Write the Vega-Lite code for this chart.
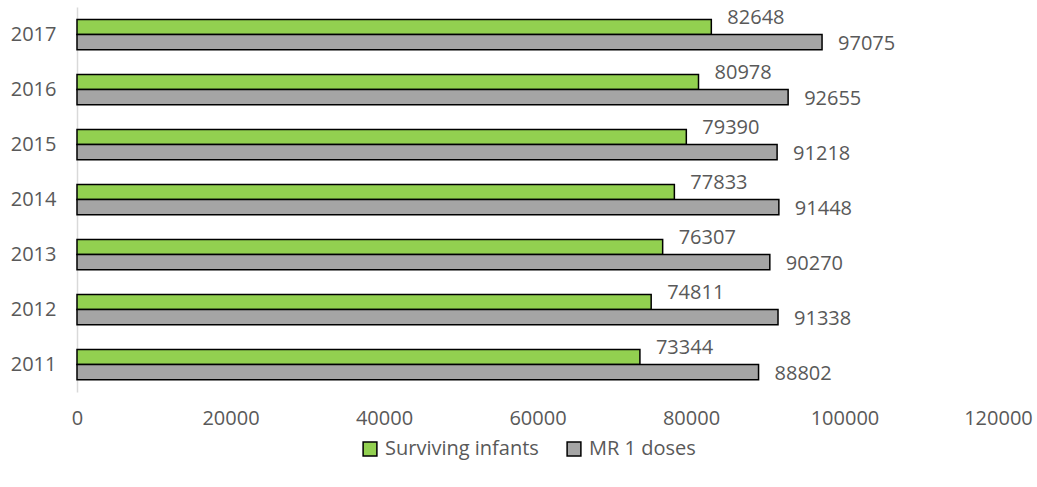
{
  "$schema": "https://vega.github.io/schema/vega-lite/v6.json",
  "width": 921,
  "height": 385,
  "autosize": {"type": "none"},
  "padding": {"left": 77, "top": 7, "right": 39, "bottom": 95},
  "background": "white",
  "config": {
    "font": "Open Sans",
    "view": {"stroke": null}
  },
  "data": {
    "values": [
      {"year": "2017", "series": "Surviving infants", "value": 82648},
      {"year": "2017", "series": "MR 1 doses", "value": 97075},
      {"year": "2016", "series": "Surviving infants", "value": 80978},
      {"year": "2016", "series": "MR 1 doses", "value": 92655},
      {"year": "2015", "series": "Surviving infants", "value": 79390},
      {"year": "2015", "series": "MR 1 doses", "value": 91218},
      {"year": "2014", "series": "Surviving infants", "value": 77833},
      {"year": "2014", "series": "MR 1 doses", "value": 91448},
      {"year": "2013", "series": "Surviving infants", "value": 76307},
      {"year": "2013", "series": "MR 1 doses", "value": 90270},
      {"year": "2012", "series": "Surviving infants", "value": 74811},
      {"year": "2012", "series": "MR 1 doses", "value": 91338},
      {"year": "2011", "series": "Surviving infants", "value": 73344},
      {"year": "2011", "series": "MR 1 doses", "value": 88802}
    ]
  },
  "encoding": {
    "y": {
      "field": "year", "type": "nominal", "sort": "descending",
      "scale": {"paddingInner": 0.45, "paddingOuter": 0.225},
      "axis": {
        "title": null, "ticks": false, "domainColor": "#d9d9d9", "domainWidth": 1.5,
        "labelFontSize": 20, "labelColor": "#595959", "labelPadding": 21, "grid": false
      }
    },
    "yOffset": {
      "field": "series", "type": "nominal",
      "scale": {"domain": ["Surviving infants", "MR 1 doses"], "paddingInner": 0, "paddingOuter": 0}
    },
    "x": {
      "field": "value", "type": "quantitative",
      "scale": {"domain": [0, 120000], "nice": false},
      "axis": {
        "title": null, "values": [0, 20000, 40000, 60000, 80000, 100000, 120000],
        "ticks": false, "domain": false, "grid": false, "format": "d",
        "labelFontSize": 20, "labelColor": "#595959", "labelPadding": 16,
        "labelFlush": false, "labelOverlap": false
      }
    }
  },
  "layer": [
    {
      "mark": {"type": "bar", "stroke": "black", "strokeWidth": 1.5},
      "encoding": {
        "color": {
          "field": "series", "type": "nominal",
          "scale": {"domain": ["Surviving infants", "MR 1 doses"], "range": ["#92D050", "#A5A5A5"]},
          "legend": {
            "title": null, "orient": "none", "legendX": 283, "legendY": 432, "direction": "horizontal",
            "symbolType": "square", "symbolSize": 190, "symbolStrokeColor": "black", "symbolStrokeWidth": 1.5,
            "labelFontSize": 20, "labelColor": "#595959", "columnPadding": 25, "labelOffset": 5
          }
        }
      }
    },
    {
      "transform": [{"filter": "datum.series === 'Surviving infants'"}],
      "mark": {"type": "text", "align": "left", "dx": 16, "dy": -9, "fontSize": 20, "color": "#595959"},
      "encoding": {"text": {"field": "value", "type": "quantitative", "format": "d"}}
    },
    {
      "transform": [{"filter": "datum.series === 'MR 1 doses'"}],
      "mark": {"type": "text", "align": "left", "dx": 16, "dy": 2, "fontSize": 20, "color": "#595959"},
      "encoding": {"text": {"field": "value", "type": "quantitative", "format": "d"}}
    }
  ]
}
